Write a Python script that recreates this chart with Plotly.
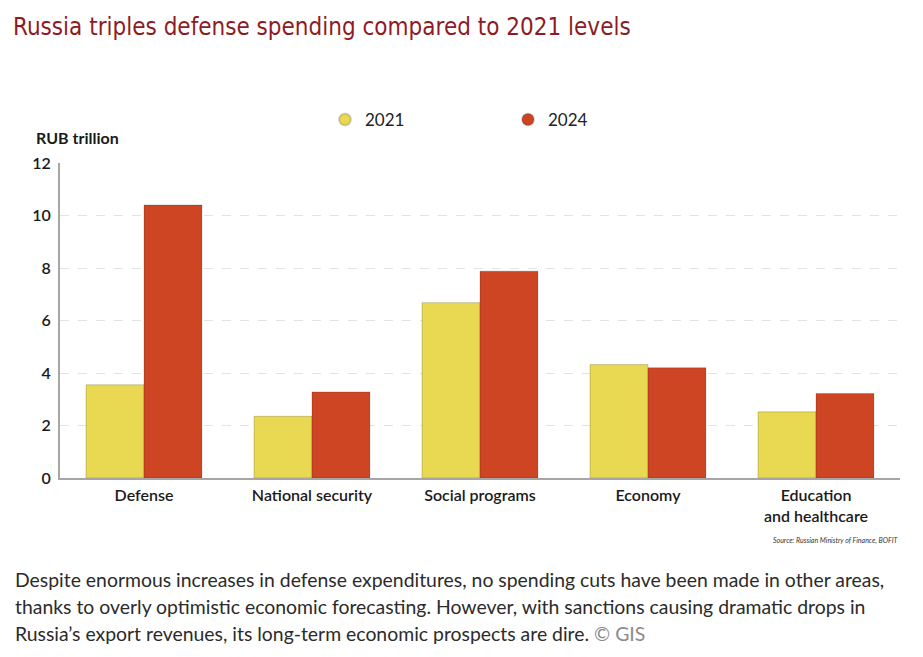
import plotly.graph_objects as go

categories = ["Defense", "National security", "Social programs", "Economy", "Education<br>and healthcare"]
values_2021 = [3.55, 2.35, 6.68, 4.32, 2.52]
values_2024 = [10.4, 3.28, 7.88, 4.2, 3.22]
y_ticks = [0, 2, 4, 6, 8, 10, 12]
caption_lines = [
    "Despite enormous increases in defense expenditures, no spending cuts have been made in other areas,",
    "thanks to overly optimistic economic forecasting. However, with sanctions causing dramatic drops in",
    "Russia’s export revenues, its long-term economic prospects are dire. <span style='color:#8a8a8a'>© GIS</span>",
]

YELLOW = "#E9D852"
RED = "#CD4523"
FONT = "Lato, 'Open Sans', sans-serif"

# page body has an 8px margin; figure is sized so that it fits the 923x657 window
W, H = 915, 649
OFF = 8
PL, PT, PR = 52, 155, 23
PH = 315
PW = W - PL - PR


def px(xr):
    return (xr - OFF - PL) / PW


def py(yr):
    return (PT + PH - (yr - OFF)) / PH


fig = go.Figure()
fig.add_trace(go.Bar(x=categories, y=values_2021, name="2021", marker=dict(color=YELLOW, line=dict(color="rgba(0,0,0,0.18)", width=1)), showlegend=False))
fig.add_trace(go.Bar(x=categories, y=values_2024, name="2024", marker=dict(color=RED, line=dict(color="rgba(0,0,0,0.18)", width=1)), showlegend=False))
fig.add_trace(go.Scatter(x=[None], y=[None], mode="markers", name="2021", marker=dict(symbol="circle", size=16, color=YELLOW, line=dict(color="rgba(0,0,0,0.15)", width=1))))
fig.add_trace(go.Scatter(x=[None], y=[None], mode="markers", name="2024", marker=dict(symbol="circle", size=16, color=RED, line=dict(color="rgba(0,0,0,0.15)", width=1))))

annotations = [
    dict(text="RUB trillion", xref="paper", yref="paper", x=px(34), y=py(137),
         xanchor="left", yanchor="middle", showarrow=False,
         font=dict(size=16, color="#1a1a1a", family=FONT, weight=700)),
    dict(text="<i>Source: Russian Ministry of Finance, BOFIT</i>", xref="paper", yref="paper",
         x=px(901), y=py(540), xanchor="right", yanchor="middle", showarrow=False,
         font=dict(size=7, color="#333", family=FONT)),
]
for i, line in enumerate(caption_lines):
    annotations.append(dict(text=line, xref="paper", yref="paper", x=px(13), y=py(579 + 27 * i),
                            xanchor="left", yanchor="middle", align="left", showarrow=False,
                            font=dict(size=19.4, color="#2b2b2b", family=FONT)))

fig.update_layout(
    width=W, height=H,
    margin=dict(l=PL, r=PR, t=PT, b=H - PT - PH),
    paper_bgcolor="white", plot_bgcolor="white",
    barmode="group", bargap=0.31, bargroupgap=0,
    font=dict(family=FONT, color="#222"),
    title=dict(text="Russia triples defense spending compared to 2021 levels",
               x=(13 - OFF) / W, xanchor="left", y=1 - (27 - OFF) / H, yanchor="middle",
               font=dict(family="'DejaVu Sans Condensed', 'Liberation Sans Narrow', sans-serif", size=24, color="#8E1B1F")),
    legend=dict(orientation="h", x=px(325), xanchor="left", y=py(120), yanchor="middle",
                entrywidth=138, entrywidthmode="pixels", font=dict(size=17, color="#222", family=FONT),
                itemsizing="constant", bgcolor="rgba(0,0,0,0)"),
    xaxis=dict(showline=True, linecolor="#A6A6A6", linewidth=2, ticks="", showgrid=False,
               ticklabelstandoff=2,
               tickfont=dict(size=16, color="#1a1a1a", family=FONT, weight=600), fixedrange=True),
    yaxis=dict(range=[0, 12], tickvals=y_ticks, showline=True, linecolor="#A6A6A6", linewidth=2,
               showgrid=True, gridcolor="#E3E3E3", griddash="dash", gridwidth=1, zeroline=False,
               ticks="", ticklabelstandoff=4,
               tickfont=dict(size=16, color="#1a1a1a", family=FONT, weight=600), fixedrange=True),
    annotations=annotations,
)

fig.write_html("out.html")
